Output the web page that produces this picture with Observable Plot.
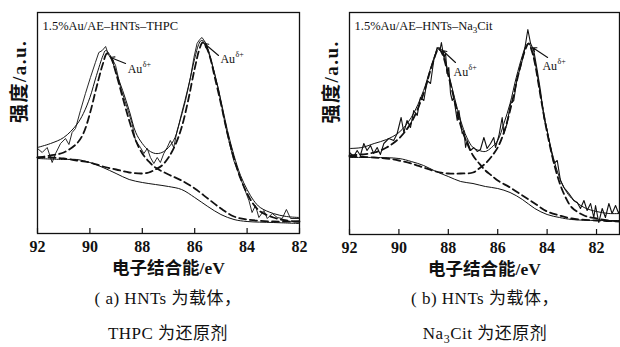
<!DOCTYPE html>
<html><head><meta charset="utf-8">
<script src="https://cdn.jsdelivr.net/npm/d3@7"></script>
<script src="https://cdn.jsdelivr.net/npm/@observablehq/plot@0.6"></script>
<style>
html,body{margin:0;padding:0;background:#fff}
#wrap{position:relative;width:620px;height:347px;overflow:hidden;background:#fff}
#pa,#pb{position:absolute;top:0}
#pa{left:0}#pb{left:310px}
.cap{position:absolute;text-align:center;font-family:"Liberation Serif","Noto Sans CJK SC",serif;font-size:17px;color:#111;line-height:20px;white-space:nowrap;letter-spacing:0.5px}
</style></head>
<body><div id="wrap">
<div id="pa"></div><div id="pb"></div>
<div class="cap" style="left:40px;width:256px;top:289px">( a) HNTs 为载体，</div>
<div class="cap" style="left:40px;width:256px;top:324px">THPC 为还原剂</div>
<div class="cap" style="left:355px;width:260px;top:289px">( b) HNTs 为载体，</div>
<div class="cap" style="left:355px;width:260px;top:324px">Na<sub style="font-size:12px;line-height:0">3</sub>Cit 为还原剂</div>
</div>
<script>
// ---------- data (binding energy eV, intensity a.u.) ----------
const xTicks = [92, 90, 88, 86, 84, 82];
const yLabel = "强度/a.u.";
const xLabel = "电子结合能/eV";
const labelA = "1.5%Au/AE–HNTs–THPC";
const labelB = "1.5%Au/AE–HNTs–Na3Cit";
const peakLabel = "Au";
const peakSup = "δ+";

// panel (a)
const a_raw = [[92.00,85],[91.82,81],[91.63,86],[91.44,71],[91.31,80],[91.12,90],[90.93,95],[90.80,89],[90.68,101],[90.55,105],[90.36,123],[90.17,140],[89.98,156],[89.79,171],[89.66,181],[89.53,183],[89.40,187],[89.28,178],[89.15,175],[89.02,168],[88.83,146],[88.58,126],[88.39,110],[88.26,93],[88.07,86],[87.94,80],[87.81,85],[87.69,76],[87.56,70],[87.43,76],[87.31,71],[87.18,80],[87.05,86],[86.93,93],[86.80,86],[86.67,103],[86.48,120],[86.35,133],[86.16,156],[86.03,176],[85.91,190],[85.81,194],[85.72,196],[85.59,191],[85.46,180],[85.27,163],[85.08,143],[84.89,116],[84.70,93],[84.51,73],[84.32,60],[84.12,46],[83.93,33],[83.81,21],[83.68,28],[83.55,16],[83.36,23],[83.23,15],[83.04,20],[82.85,16],[82.66,15],[82.50,24],[82.34,15],[82.00,15]];
const a_envelope = [[92,86],[91.5,90],[91,96],[90.5,109],[90.25,120],[90,136],[89.75,158],[89.5,178],[89.4,183],[89.25,179],[89,161],[88.75,143],[88.5,123],[88.25,101],[88,90],[87.75,83],[87.5,80],[87.25,81],[87,86],[86.75,96],[86.5,120],[86.25,146],[86,175],[85.85,189],[85.75,193],[85.6,191],[85.5,185],[85.25,161],[85,133],[84.75,103],[84.5,78],[84.25,58],[84,44],[83.75,33],[83.5,26],[83,20],[82.5,17],[82,16]];
const a_comp1 = [[92,76],[91.5,78],[91,81],[90.5,90],[90.25,100],[90,120],[89.75,146],[89.5,170],[89.35,180],[89.2,176],[89,160],[88.75,136],[88.5,113],[88.25,93],[88,80],[87.75,72],[87.5,66],[87,59],[86.5,53],[86,45],[85.5,35],[85,25],[84.5,17],[84,14],[83,12],[82,12]];
const a_comp2 = [[92,76],[91.5,76],[91,75],[90.5,73],[90,71],[89.5,67],[89,64],[88.5,61],[88,60],[87.75,61],[87.5,64],[87.25,68],[87,76],[86.75,88],[86.5,106],[86.25,133],[86,165],[85.8,186],[85.7,191],[85.55,186],[85.4,175],[85.25,158],[85,130],[84.75,100],[84.5,75],[84.25,55],[84,40],[83.75,29],[83.5,22],[83,16],[82.5,13],[82,12]];
const a_bg = [[92,75],[91,74],[90.5,74],[90,71],[89.5,66],[89,60],[88.5,54],[88,51],[87.5,49],[87,47],[86.5,44],[86,36],[85.5,27],[85,19],[84.5,14],[84,12],[83,11],[82,10]];
const a_arrows = [[88.64,170,89.21,176],[85.09,178,85.63,190]];
const a_notes = [[88.56,164],[85.02,174]];

// panel (b)
const b_raw = [[92.00,82],[91.83,78],[91.69,84],[91.56,79],[91.42,91],[91.29,84],[91.15,89],[91.02,81],[90.88,87],[90.75,80],[90.61,91],[90.41,96],[90.21,94],[90.07,101],[89.91,117],[89.80,102],[89.67,114],[89.53,107],[89.40,124],[89.26,119],[89.13,137],[88.99,134],[88.86,154],[88.72,151],[88.59,174],[88.45,187],[88.34,184],[88.28,192],[88.18,177],[88.11,181],[88.05,161],[87.98,167],[87.91,141],[87.84,134],[87.78,137],[87.64,114],[87.57,124],[87.44,101],[87.37,104],[87.30,87],[87.24,94],[87.10,84],[86.97,87],[86.83,83],[86.70,85],[86.56,97],[86.43,86],[86.29,91],[86.16,97],[86.09,87],[85.95,99],[85.82,117],[85.75,101],[85.62,111],[85.48,131],[85.35,134],[85.21,157],[85.08,167],[84.94,181],[84.87,191],[84.78,205],[84.67,191],[84.54,184],[84.40,164],[84.27,144],[84.13,117],[84.00,104],[83.86,87],[83.73,71],[83.59,74],[83.46,54],[83.32,47],[83.12,41],[82.92,34],[82.78,32],[82.65,26],[82.51,34],[82.38,24],[82.24,31],[82.11,17],[82.04,29],[81.91,12],[81.77,26],[81.64,17],[81.50,31],[81.37,21],[81.23,29],[81.10,21],[81.02,27]];
const b_envelope = [[92,86],[91.5,87],[91,91],[90.5,95],[90,102],[89.5,117],[89,144],[88.75,164],[88.5,182],[88.4,187],[88.25,184],[88,162],[87.75,137],[87.5,114],[87.25,97],[87,87],[86.75,84],[86.5,83],[86.25,87],[86,94],[85.75,111],[85.5,131],[85.25,157],[85,179],[84.85,189],[84.75,191],[84.6,184],[84.5,174],[84.25,137],[84,104],[83.75,77],[83.5,57],[83.25,44],[83,36],[82.5,27],[82,23],[81.5,21],[81,21]];
const b_comp1 = [[92,79],[91.5,80],[91,82],[90.5,87],[90,96],[89.5,112],[89,141],[88.75,162],[88.5,181],[88.4,186],[88.25,181],[88,159],[87.75,134],[87.5,109],[87.25,92],[87,79],[86.75,71],[86.5,64],[86.25,59],[86,54],[85.5,47],[85,39],[84.5,31],[84,23],[83.5,19],[83,16],[82,14],[81,13]];
const b_comp2 = [[92,78],[91,77],[90.5,76],[90,74],[89.5,71],[89,67],[88.5,63],[88,61],[87.5,61],[87,62],[86.75,66],[86.5,71],[86.25,78],[86,87],[85.75,102],[85.5,124],[85.25,151],[85,176],[84.85,187],[84.75,191],[84.6,182],[84.5,172],[84.25,136],[84,102],[83.75,74],[83.5,52],[83.25,37],[83,27],[82.5,19],[82,16],[81.5,14],[81,13]];
const b_bg = [[92,77],[91,77],[90,76],[89.5,73],[89,69],[88.5,63],[88,58],[87.5,53],[87,51],[86.5,48],[86,46],[85.5,42],[85,35],[84.5,26],[84,20],[83.5,17],[83,15],[82,14],[81,14]];
const b_arrows = [[87.71,172,88.23,184],[83.98,177,84.59,187]];
const b_notes = [[87.79,162],[84.19,168]];

// ---------- drawing ----------
const serif = '"Liberation Serif","Noto Sans CJK SC",serif';
function panel(o) {
  const X = d => d[0], Y = d => d[1];
  const line = (data, extra) => Plot.line(data, {x: X, y: Y, stroke: "#111", ...extra});
  return Plot.plot({
    width: 310, height: 282,
    marginLeft: o.ml, marginRight: o.mr, marginTop: 12, marginBottom: o.mb,
    style: {fontFamily: serif, color: "#111", background: "transparent", overflow: "visible"},
    x: {domain: o.xdom},
    y: {domain: o.ydom, axis: null},
    marks: [
      line(o.bg, {strokeWidth: 1, curve: "catmull-rom"}),
      line(o.comp1, {strokeWidth: 1.8, strokeDasharray: "7,4", curve: "catmull-rom"}),
      line(o.comp2, {strokeWidth: 1.8, strokeDasharray: "7,4", curve: "catmull-rom"}),
      line(o.raw, {strokeWidth: o.rawW, curve: "linear"}),
      line(o.env, {strokeWidth: 1, curve: "catmull-rom"}),
      Plot.arrow(o.arrows, {x1: d => d[0], y1: d => d[1], x2: d => d[2], y2: d => d[3], bend: 0, headLength: 6, strokeWidth: 1.1, stroke: "#111"}),
      Plot.text(o.notes, {x: X, y: Y, text: () => peakLabel, textAnchor: "start", fontSize: 12, fill: "#111"}),
      Plot.text(o.notes, {x: X, y: Y, text: () => peakSup, textAnchor: "start", dx: 15, dy: -5, fontSize: 8, fill: "#111"}),
      Plot.frame({stroke: "#111", strokeWidth: 1.3}),
      Plot.axisX({ticks: xTicks, tickSize: -5, tickPadding: 12, tickFormat: d => String(d), fontSize: 16, fontWeight: "bold", label: null, strokeWidth: 1.2}),
      Plot.text([o.label], {frameAnchor: "top-left", dx: 5, dy: 9, textAnchor: "start", fontSize: 12.5, fill: "#111"}),
      Plot.text([yLabel], {frameAnchor: "left", rotate: -90, dx: -18, fontSize: 19, fontWeight: "bold", fill: "#111"}),
      Plot.text([xLabel], {frameAnchor: "bottom", dy: 40, fontSize: 17.5, fontWeight: "bold", fill: "#111"})
    ]
  });
}

const pa = panel({ml: 37, mr: 11, mb: 49, xdom: [92, 82], ydom: [0, 221],
  raw: a_raw, env: a_envelope, comp1: a_comp1, comp2: a_comp2, bg: a_bg, rawW: 0.9,
  arrows: a_arrows, notes: a_notes, label: labelA});
const pb = panel({ml: 39, mr: 1, mb: 48, xdom: [92, 81.07], ydom: [0, 222],
  raw: b_raw, env: b_envelope, comp1: b_comp1, comp2: b_comp2, bg: b_bg, rawW: 1.1,
  arrows: b_arrows, notes: b_notes, label: labelB});
document.getElementById("pa").appendChild(pa);
document.getElementById("pb").appendChild(pb);

// letter spacing on y label and subscript the 3 in Na3Cit
d3.selectAll("svg text").each(function () {
  const t = d3.select(this);
  const s = t.text();
  if (s === yLabel) t.style("letter-spacing", "1.5px");
  const i = s.indexOf("Na3Cit");
  if (i < 0) return;
  t.text(null);
  t.append("tspan").text(s.slice(0, i + 2));
  t.append("tspan").attr("dy", 3).attr("font-size", 9).text("3");
  t.append("tspan").attr("dy", -3).text(s.slice(i + 3));
});
</script>
</body></html>
